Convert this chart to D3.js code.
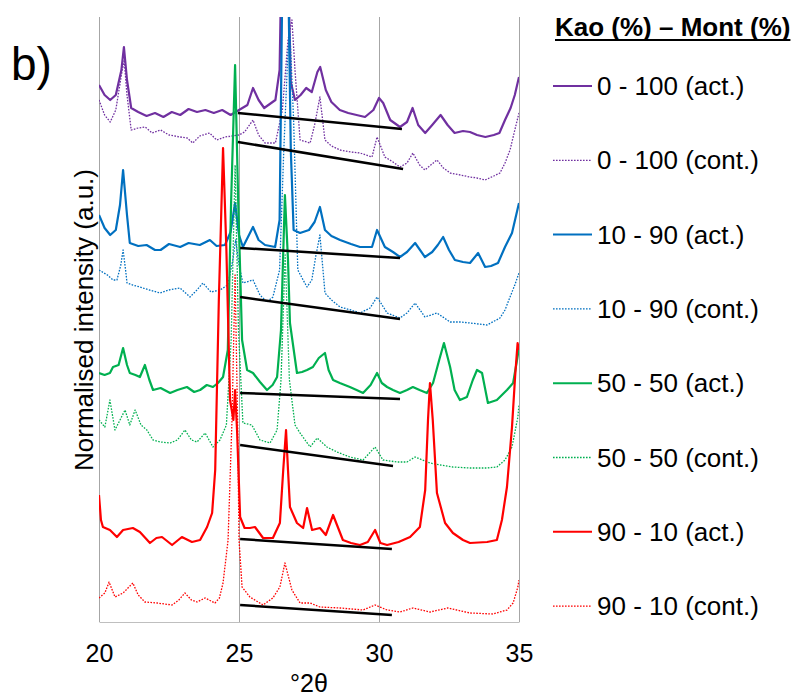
<!DOCTYPE html>
<html>
<head>
<meta charset="utf-8">
<title>XRD Kao - Mont</title>
<script src="https://d3js.org/d3.v7.min.js"></script>
<style>
  body { margin: 0; background: #fff; }
  svg text { font-family: "Liberation Sans", Arial, sans-serif; fill: #000; }
</style>
</head>
<body>
<div id="chart"></div>
<script>
// x ticks (°2θ)
var xTicks = [20, 25, 30, 35];

var legendTitle = "Kao (%) \u2013 Mont (%)";
var labels = ["0 - 100 (act.)", "0 - 100 (cont.)", "10 - 90 (act.)", "10 - 90 (cont.)",
              "50 - 50 (act.)", "50 - 50 (cont.)", "90 - 10 (act.)", "90 - 10 (cont.)"];

// [°2θ, stacked normalised intensity (a.u.)]
var k0Act = [[20.0,537],[20.2,527],[20.4,522],[20.6,527],[20.8,552],[20.89,575],[21.0,542],[21.15,514],[21.4,510],[21.7,506],
  [22.0,509],[22.3,505],[22.6,510],[22.9,507],[23.2,513],[23.5,510],[23.8,512],[24.1,509],[24.4,512],[24.7,507],[25.0,512],
  [25.3,517],[25.5,534],[25.7,522],[25.9,514],[26.1,518],[26.3,522],[26.45,552],[26.55,720],[26.7,720],[26.85,540],[27.0,522],
  [27.2,527],[27.4,534],[27.6,530],[27.8,550],[27.9,555],[28.1,532],[28.3,520],[28.6,512],[28.9,509],[29.2,507],[29.5,505],
  [29.8,512],[30.0,524],[30.15,519],[30.4,502],[30.75,495],[31.0,500],[31.2,514],[31.4,497],[31.65,489],[31.9,497],[32.2,507],
  [32.45,497],[32.7,489],[33.0,491],[33.25,490],[33.5,487],[33.8,485],[34.1,487],[34.3,489],[34.5,502],[34.7,514],[34.85,527],[35.0,545]];

var k0Cont = [[20.0,522],[20.2,507],[20.4,500],[20.6,512],[20.8,547],[20.9,562],[21.0,527],[21.15,492],[21.4,494],[21.65,495],
  [21.9,489],[22.2,492],[22.5,487],[22.9,485],[23.15,484],[23.35,479],[23.6,486],[23.95,489],[24.2,482],[24.5,485],[24.75,486],
  [25.0,487],[25.2,490],[25.5,502],[25.7,487],[25.93,479],[26.3,479],[26.55,512],[26.75,582],[26.89,602],[27.0,552],[27.18,482],
  [27.54,479],[27.7,497],[27.89,525],[28.07,482],[28.3,476],[28.61,472],[29.0,470],[29.32,469],[29.75,465],[29.93,485],[30.21,465],
  [30.5,460],[30.75,455],[31.0,459],[31.21,469],[31.45,457],[31.64,452],[31.85,457],[32.07,462],[32.3,454],[32.54,449],[32.9,447],
  [33.25,445],[33.5,444],[33.79,442],[34.1,446],[34.32,449],[34.5,459],[34.68,472],[34.85,492],[35.0,509]];

var k10Act = [[20.0,407],[20.2,394],[20.4,387],[20.6,392],[20.75,417],[20.86,452],[21.0,407],[21.1,379],[21.4,376],[21.7,377],
  [22.0,372],[22.2,372],[22.5,378],[22.9,375],[23.2,379],[23.6,377],[23.96,382],[24.2,376],[24.5,377],[24.7,390],[24.86,419],
  [25.0,387],[25.14,375],[25.5,395],[25.7,382],[25.93,377],[26.29,375],[26.45,402],[26.58,720],[26.72,720],[26.85,472],[26.95,392],
  [27.18,389],[27.5,392],[27.7,400],[27.89,415],[28.07,392],[28.3,386],[28.61,382],[29.0,378],[29.32,375],[29.75,375],[29.93,392],
  [30.21,375],[30.5,370],[30.75,365],[31.0,370],[31.29,379],[31.64,365],[31.9,370],[32.1,377],[32.29,385],[32.5,372],[32.71,362],
  [33.0,360],[33.25,359],[33.54,369],[33.79,355],[34.0,356],[34.25,359],[34.5,375],[34.75,389],[35.0,419]];

var k10Cont = [[20.0,352],[20.3,347],[20.5,342],[20.64,342],[20.78,357],[20.86,372],[20.95,352],[21.0,339],[21.2,337],[21.46,335],
  [21.8,332],[22.18,329],[22.5,332],[22.89,334],[23.25,325],[23.5,332],[23.71,339],[24.0,330],[24.32,332],[24.6,337],[24.78,362],
  [24.88,382],[25.0,357],[25.14,339],[25.5,342],[25.75,327],[26.0,320],[26.21,325],[26.45,352],[26.6,472],[26.75,572],[26.82,589],
  [26.95,502],[27.1,352],[27.29,342],[27.43,335],[27.6,342],[27.75,367],[27.89,387],[28.0,352],[28.07,329],[28.3,322],[28.61,315],
  [29.0,312],[29.32,309],[29.68,314],[29.93,325],[30.29,309],[30.75,304],[31.0,309],[31.29,319],[31.64,305],[32.07,309],[32.54,300],
  [32.9,300],[33.25,299],[33.86,297],[34.32,304],[34.5,312],[34.68,325],[34.85,337],[35.0,349]];

var k50Act = [[20.0,249],[20.2,247],[20.39,249],[20.5,255],[20.7,257],[20.86,274],[21.0,257],[21.1,249],[21.3,247],[21.46,245],
  [21.64,257],[21.8,242],[21.93,232],[22.2,234],[22.54,229],[22.8,232],[23.14,235],[23.4,230],[23.61,232],[23.85,237],[24.07,235],
  [24.25,239],[24.43,245],[24.6,272],[24.72,422],[24.86,557],[24.97,422],[25.11,282],[25.29,252],[25.5,249],[25.75,240],[26.0,232],
  [26.2,237],[26.36,245],[26.5,292],[26.64,427],[26.75,362],[26.82,299],[27.07,249],[27.25,250],[27.43,252],[27.64,255],[27.85,264],
  [28.07,269],[28.2,252],[28.36,242],[28.6,239],[28.96,235],[29.2,232],[29.43,229],[29.7,237],[29.93,249],[30.1,239],[30.29,235],
  [30.5,232],[30.75,229],[31.0,232],[31.21,235],[31.45,232],[31.71,229],[31.93,239],[32.15,262],[32.32,279],[32.54,255],[32.7,232],
  [32.89,222],[33.14,225],[33.35,242],[33.5,252],[33.68,249],[33.89,219],[34.21,222],[34.57,232],[34.79,239],[34.9,257],[35.0,274]];

var k50Cont = [[20.0,202],[20.21,195],[20.39,222],[20.57,192],[20.75,202],[20.93,212],[21.1,197],[21.29,212],[21.5,197],[21.71,192],
  [21.93,182],[22.2,180],[22.54,179],[22.8,182],[23.07,192],[23.3,182],[23.5,180],[23.79,189],[24.07,175],[24.32,182],[24.55,197],
  [24.72,282],[24.86,457],[24.98,292],[25.14,199],[25.46,197],[25.75,182],[26.11,179],[26.36,192],[26.5,242],[26.65,367],[26.8,242],
  [27.0,197],[27.18,189],[27.54,175],[27.79,184],[28.14,175],[28.5,170],[28.96,165],[29.43,162],[29.86,175],[30.14,162],[30.64,160],
  [31.0,160],[31.29,165],[31.82,159],[32.2,157],[32.64,155],[33.25,154],[33.86,154],[34.21,155],[34.5,162],[34.75,175],[34.96,205],
  [35.0,217]];

var k90Act = [[20.0,127],[20.07,102],[20.14,95],[20.39,92],[20.64,85],[20.86,92],[21.21,94],[21.46,90],[21.82,79],[22.05,84],
  [22.25,85],[22.61,77],[22.96,85],[23.32,80],[23.61,82],[23.86,95],[24.04,109],[24.15,152],[24.28,322],[24.43,474],[24.55,372],
  [24.68,222],[24.8,202],[24.86,232],[24.93,192],[25.04,105],[25.2,94],[25.39,94],[25.57,95],[25.86,84],[26.21,84],[26.46,99],
  [26.58,152],[26.68,192],[26.75,152],[26.82,115],[27.07,99],[27.29,94],[27.43,114],[27.61,92],[27.89,94],[28.1,87],[28.36,107],
  [28.71,82],[29.0,79],[29.32,77],[29.6,80],[29.86,92],[30.05,79],[30.29,77],[30.7,80],[31.11,85],[31.46,95],[31.65,132],[31.75,202],
  [31.82,239],[31.92,202],[32.07,129],[32.36,99],[32.64,89],[33.0,82],[33.25,79],[33.86,80],[34.21,82],[34.39,102],[34.57,135],
  [34.75,195],[34.86,245],[34.95,279],[35.0,272]];

var k90Cont = [[20.0,24],[20.21,29],[20.36,40],[20.57,25],[20.86,29],[21.21,39],[21.4,27],[21.64,20],[22.07,19],[22.61,17],
  [22.85,22],[23.07,29],[23.3,22],[23.5,20],[23.79,24],[24.14,19],[24.3,24],[24.43,39],[24.61,82],[24.75,202],[24.86,347],
  [24.95,202],[25.0,82],[25.11,35],[25.39,25],[25.86,17],[26.21,24],[26.46,35],[26.64,59],[26.89,32],[27.18,19],[27.54,19],
  [27.89,15],[28.61,14],[29.43,12],[29.86,17],[30.29,12],[30.75,10],[31.21,14],[31.82,10],[32.46,14],[33.25,9],[34.07,8],
  [34.57,12],[34.79,19],[34.96,35],[35.0,42]];

// hand-drawn background lines, one per trace
var tangents = [
  [[24.96,509],[30.82,493]],
  [[24.96,480],[30.86,453]],
  [[25.04,374],[30.75,364]],
  [[25.04,325],[30.75,303]],
  [[25.04,229],[30.75,223]],
  [[25.04,177],[30.5,156]],
  [[25.04,83],[30.46,73]],
  [[25.04,17],[30.46,7]]
];

var series = [k0Act, k0Cont, k10Act, k10Cont, k50Act, k50Cont, k90Act, k90Cont];
var colors = ["#7030a0", "#7030a0", "#0070c0", "#0070c0", "#00b050", "#00b050", "#ff0000", "#ff0000"];

var W = 804, H = 700;
var margin = {left: 99, top: 17};
var width = 420, height = 605;

var svg = d3.select("#chart").append("svg")
  .attr("width", W)
  .attr("height", H);

var x = d3.scaleLinear().domain([20, 35]).range([margin.left, margin.left + width]);
var y = d3.scaleLinear().domain([0, 605]).range([margin.top + height, margin.top]);

svg.append("defs").append("clipPath").attr("id", "plotclip")
  .append("rect")
  .attr("x", margin.left).attr("y", margin.top)
  .attr("width", width).attr("height", height);

// vertical gridlines + tick labels
var xAxis = svg.append("g")
  .attr("transform", "translate(0," + (margin.top + height) + ")")
  .call(d3.axisBottom(x).tickValues(xTicks).tickSize(-height).tickSizeOuter(0).tickPadding(22));
xAxis.select(".domain").attr("stroke", "#bfbfbf").attr("stroke-width", 1.2);
xAxis.selectAll(".tick line").attr("stroke", "#a6a6a6").attr("stroke-width", 1);
xAxis.selectAll(".tick text")
  .style("font-size", "25px")
  .attr("fill", "#000");

// traces
var line = d3.line()
  .x(function (d) { return x(d[0]); })
  .y(function (d) { return y(d[1]); });

var plot = svg.append("g").attr("clip-path", "url(#plotclip)");

plot.selectAll("path.trace")
  .data(series)
  .enter()
  .append("path")
  .attr("class", "trace")
  .attr("d", line)
  .attr("fill", "none")
  .attr("stroke", function (d, i) { return colors[i]; })
  .attr("stroke-width", function (d, i) { return i % 2 ? 1.3 : 2.2; })
  .attr("stroke-dasharray", function (d, i) { return i % 2 ? "1.6,1.4" : null; })
  .attr("stroke-linejoin", "round");

plot.selectAll("path.tangent")
  .data(tangents)
  .enter()
  .append("path")
  .attr("class", "tangent")
  .attr("d", line)
  .attr("stroke", "#000")
  .attr("stroke-width", 2.5);

// axis titles
svg.append("text")
  .attr("x", margin.left + width / 2)
  .attr("y", 692)
  .attr("text-anchor", "middle")
  .style("font-size", "25px")
  .text("\u00b02\u03b8");

svg.append("text")
  .attr("transform", "translate(93," + 320 + ") rotate(-90)")
  .attr("text-anchor", "middle")
  .style("font-size", "26px")
  .text("Normalised intensity (a.u.)");

svg.append("text")
  .attr("x", 11)
  .attr("y", 80)
  .style("font-size", "46px")
  .text("b)");

// legend
var lg = svg.append("g");
var title = lg.append("text")
  .attr("x", 555)
  .attr("y", 36)
  .style("font-size", "26px")
  .style("font-weight", "bold")
  .text(legendTitle);
var tlen = title.node().getComputedTextLength();
lg.append("line")
  .attr("x1", 555).attr("x2", 555 + tlen)
  .attr("y1", 40).attr("y2", 40)
  .attr("stroke", "#000").attr("stroke-width", 2);

var item = lg.selectAll("g.item")
  .data(labels)
  .enter()
  .append("g")
  .attr("class", "item")
  .attr("transform", function (d, i) { return "translate(0," + (86 + i * 74.3) + ")"; });

item.append("line")
  .attr("x1", 553).attr("x2", 592)
  .attr("stroke", function (d, i) { return colors[i]; })
  .attr("stroke-width", function (d, i) { return i % 2 ? 1.3 : 2; })
  .attr("stroke-dasharray", function (d, i) { return i % 2 ? "1.6,1.4" : null; });

item.append("text")
  .attr("x", 597)
  .attr("dy", "0.35em")
  .style("font-size", "26px")
  .text(function (d) { return d; });
</script>
</body>
</html>
